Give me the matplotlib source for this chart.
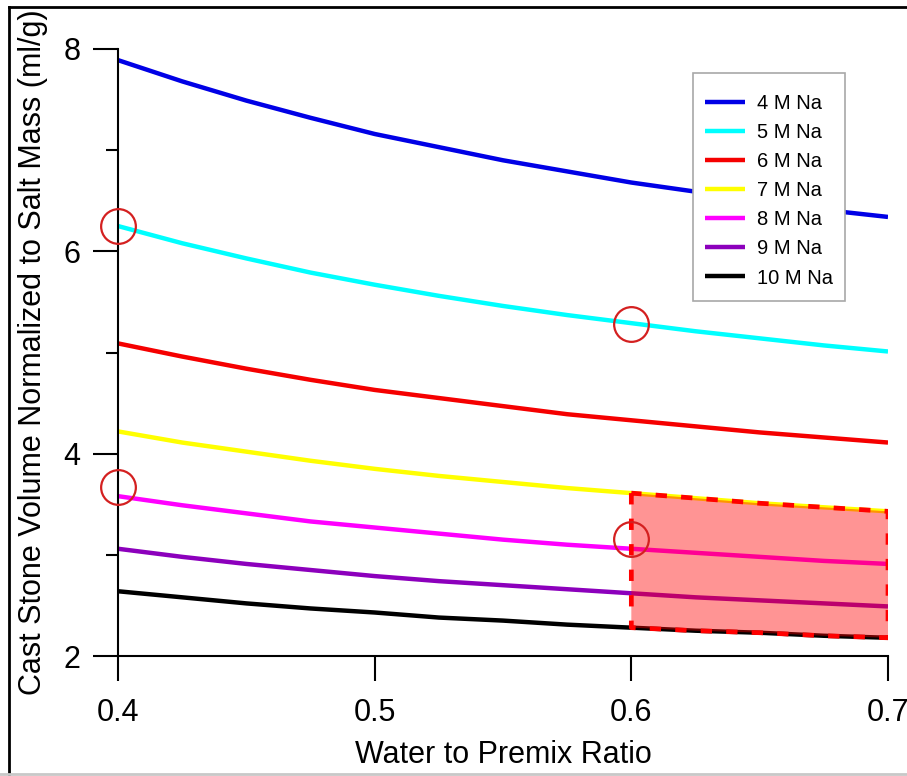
import matplotlib.pyplot as plt
from matplotlib.lines import Line2D
from matplotlib.patches import Rectangle
import numpy as np

plt.rcParams['font.family'] = ['Liberation Sans', 'DejaVu Sans']

# water to premix ratio
ratio = [0.400, 0.425, 0.450, 0.475, 0.500, 0.525, 0.550,
         0.575, 0.600, 0.625, 0.650, 0.675, 0.700]

# cast stone volume normalized to salt mass (ml/g)
na4 = [7.89, 7.68, 7.49, 7.32, 7.16, 7.03, 6.90, 6.79, 6.68, 6.59, 6.50, 6.41, 6.34]
na5 = [6.25, 6.08, 5.93, 5.79, 5.67, 5.56, 5.46, 5.37, 5.29, 5.21, 5.14, 5.07, 5.01]
na6 = [5.09, 4.96, 4.84, 4.73, 4.63, 4.55, 4.47, 4.39, 4.33, 4.27, 4.21, 4.16, 4.11]
na7 = [4.22, 4.11, 4.02, 3.93, 3.85, 3.78, 3.72, 3.66, 3.61, 3.56, 3.51, 3.47, 3.43]
na8 = [3.58, 3.49, 3.41, 3.33, 3.27, 3.21, 3.15, 3.10, 3.06, 3.02, 2.98, 2.94, 2.91]
na9 = [3.06, 2.98, 2.91, 2.85, 2.79, 2.74, 2.70, 2.66, 2.62, 2.58, 2.55, 2.52, 2.49]
na10 = [2.64, 2.58, 2.52, 2.47, 2.43, 2.38, 2.35, 2.31, 2.28, 2.25, 2.23, 2.20, 2.18]

labels = ["4 M Na", "5 M Na", "6 M Na", "7 M Na", "8 M Na", "9 M Na", "10 M Na"]
colors = ['#0000e6', '#00ffff', '#f50000', '#ffff00', '#ff00ff', '#8c00bc', '#000000']

# highlighted points (red circles)
circle_x = [0.4, 0.6, 0.4, 0.6]
circle_y = [6.25, 5.28, 3.67, 3.16]

# shaded window: ratio from 0.6 upward, between 7 M and 10 M curves
window_start = 0.6

fig = plt.figure(figsize=(9.07, 7.76), dpi=100)
ax = fig.add_axes([118/907, 1-656/776, (888-118)/907, (656-49)/776])

series = [na4, na5, na6, na7, na8, na9, na10]
for vals, lab, col in zip(series, labels, colors):
    ax.plot(ratio, vals, color=col, lw=3.2, label=lab, solid_capstyle='butt')

x = np.array(ratio)
m = x >= window_start - 1e-9
ax.fill_between(x[m], np.array(na10)[m], np.array(na7)[m],
                facecolor=(1, 0, 0, 0.42), edgecolor='#ff0000',
                linewidth=3.4, linestyle=(0, (2.4, 3.0)), zorder=5)

ax.plot(circle_x, circle_y, 'o', ms=25, mfc='none', mec='#d42020',
        mew=1.6, zorder=6, clip_on=False)

ax.set_xlim(0.4, 0.7)
ax.set_ylim(2, 8)
ax.set_xticks([0.4, 0.5, 0.6, 0.7])
ax.set_yticks([2, 4, 6, 8])
ax.set_yticks([3, 5, 7], minor=True)
ax.set_xticklabels(["0.4", "0.5", "0.6", "0.7"])
ax.spines['top'].set_visible(False)
ax.spines['right'].set_visible(False)
for s in ['left', 'bottom']:
    ax.spines[s].set_linewidth(1.5)
ax.tick_params(axis='both', which='major', direction='out', length=18,
               width=1.5, labelsize=22)
ax.tick_params(axis='x', which='major', pad=12)
ax.tick_params(axis='y', which='major', pad=9)
ax.tick_params(axis='y', which='minor', direction='out', length=9, width=1.5)

ax.set_xlabel("Water to Premix Ratio", fontsize=22, labelpad=9)
ax.set_ylabel("Cast Stone Volume Normalized to Salt Mass (ml/g)", fontsize=22,
              labelpad=11)

# legend box drawn separately so its padding can match the original
box = Rectangle((693/907, 1-301/776), (845-693)/907, (301-73)/776,
                transform=fig.transFigure, facecolor='white',
                edgecolor='#a8a8a8', lw=1.2, zorder=7, clip_on=False)
ax.add_patch(box)
leg = ax.legend(loc='upper left', bbox_to_anchor=(693/907, 1-82/776),
                bbox_transform=fig.transFigure, borderaxespad=0,
                fontsize=14.5, frameon=False,
                handlelength=2.0, handletextpad=0.6, labelspacing=0.5,
                borderpad=0.6)
leg.set_zorder(8)

# outer frame around the picture
fig.add_artist(Line2D([9/907, 9/907], [0, 1-7/776], color='black', lw=2,
                      transform=fig.transFigure))
fig.add_artist(Line2D([9/907, 1], [1-7/776, 1-7/776], color='black', lw=2,
                      transform=fig.transFigure))
fig.add_artist(Line2D([0, 1], [2/776, 2/776], color='#c8c8c8', lw=2,
                      transform=fig.transFigure))

fig.savefig("out.png", dpi=100)
